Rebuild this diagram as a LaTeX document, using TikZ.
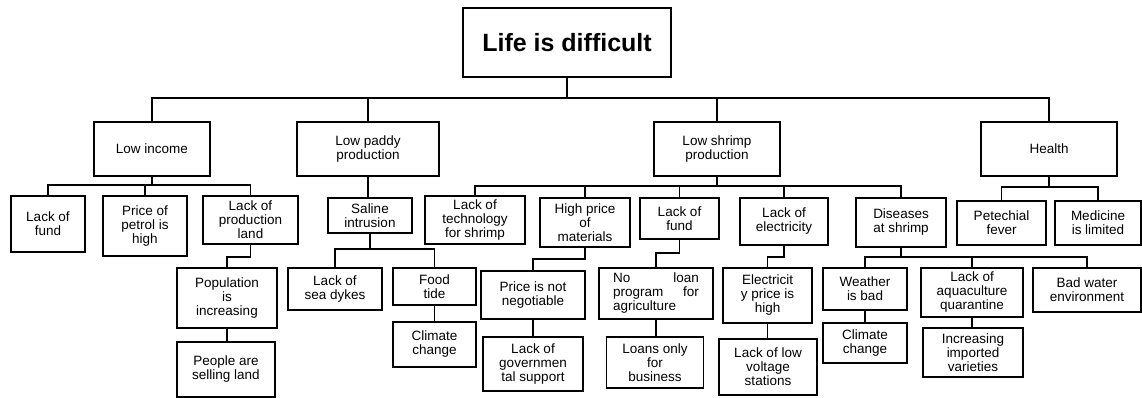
\documentclass[tikz,border=0pt]{standalone}
\usepackage{fontspec}
\setmainfont{Liberation Sans}
\tikzset{
  box/.style = {draw, line width=1.8pt, align=center, inner sep=0pt,
                font=\fontsize{13.5}{14}\selectfont},
  wh/.style 2 args = {minimum width=#1pt, minimum height=#2pt},
  link/.style = {line width=1.8pt}
}

\begin{document}
\begin{tikzpicture}[x=1pt, y=-1pt]
  \useasboundingbox (0,0) rectangle (1142,398);

  \node[box, wh={208}{69}, font=\fontsize{25}{28}\selectfont\bfseries] (life) at (567,42.5) {Life is difficult};

  \node[box, wh={116}{54}] (lowinc) at (152,149) {Low income};
  \node[box, wh={142}{54}] (paddy)  at (368,149) {Low paddy\\production};
  \node[box, wh={126}{54}] (shrimp) at (717,149) {Low shrimp\\production};
  \node[box, wh={136}{54}] (health) at (1049,149) {Health};

  \node[box, wh={74}{56}]  (fundA)    at (48,224)    {Lack of\\fund};
  \node[box, wh={84}{60}]  (petrol)   at (145,226)   {Price of\\petrol is\\high};
  \node[box, wh={95}{48}]  (prodland) at (250.5,220) {Lack of\\production\\land};
  \node[box, wh={100}{60}] (populat)  at (227,298)   {Population\\is\\increasing};
  \node[box, wh={98}{55}]  (selling)  at (226,369.5) {People are\\selling land};

  \node[box, wh={84}{35}]  (saline)   at (370,215.5) {Saline\\intrusion};
  \node[box, wh={94}{42}]  (dykes)    at (335,289)   {Lack of\\sea dykes};
  \node[box, wh={83}{37}]  (foodtide) at (434.5,286.5) {Food\\tide};
  \node[box, wh={83}{45}]  (climA)    at (434.5,344.5) {Climate\\change};

  \node[box, wh={100}{48}] (techno)   at (475,220)   {Lack of\\technology\\for shrimp};
  \node[box, wh={90}{49}]  (highpr)   at (585,222.5) {High price\\of\\materials};
  \node[box, wh={79}{41}]  (fundB)    at (679.5,218.5) {Lack of\\fund};
  \node[box, wh={88}{47}]  (electr)   at (784,221.5) {Lack of\\electricity};
  \node[box, wh={90}{49}]  (disease)  at (901,222.5) {Diseases\\at shrimp};

  \node[box, wh={104}{48}] (notneg)   at (533,295)   {Price is not\\negotiable};
  \node[box, wh={100}{54}] (govsup)   at (533,364)   {Lack of\\governmen\\tal support};
  \node[box, wh={114}{51}, text width=86pt, align=left] (noloan) at (656,293.5)
       {No\hfill loan\\program\hfill for\\agriculture};
  \node[box, wh={97}{51}]  (loansonly) at (655,362.5) {Loans only\\for\\business};
  \node[box, wh={89}{55}]  (elecpr)   at (767.5,295.5) {Electricit\\y price is\\high};
  \node[box, wh={98}{56}]  (lowvolt)  at (768,367)   {Lack of low\\voltage\\stations};
  \node[box, wh={84}{42}]  (weather)  at (865,289)   {Weather\\is bad};
  \node[box, wh={84}{40}]  (climB)    at (865,343)   {Climate\\change};
  \node[box, wh={102}{49}] (aqua)     at (972,292.5) {Lack of\\aquaculture\\quarantine};
  \node[box, wh={100}{49}] (import)   at (973,352.5) {Increasing\\imported\\varieties};
  \node[box, wh={108}{44}] (badwater) at (1087,290)  {Bad water\\environment};

  \node[box, wh={89}{44}]  (petech)   at (1001.5,223) {Petechial\\fever};
  \node[box, wh={86}{44}]  (medic)    at (1098,223)  {Medicine\\is limited};

  \coordinate (busTop) at (0,98);
  \coordinate (busInc) at (0,185);
  \coordinate (busPad) at (0,249);
  \coordinate (busShr) at (0,186);
  \coordinate (busHea) at (0,187);
  \coordinate (busDis) at (0,257);
  \coordinate (busLow) at (0,257);
  \coordinate (busMid) at (0,259);
  \coordinate (busFun) at (0,253);

  \foreach \c in {lowinc, paddy, shrimp, health}
    \draw[link] (life.south) -- (life.south |- busTop) -| (\c.north);
  \foreach \c in {fundA, petrol, prodland}
    \draw[link] (lowinc.south) -- (lowinc.south |- busInc) -| (\c.north);
  \foreach \c in {dykes, foodtide}
    \draw[link] (saline.south) -- (saline.south |- busPad) -| (\c.north);
  \foreach \c in {techno, highpr, fundB, electr, disease}
    \draw[link] (shrimp.south) -- (shrimp.south |- busShr) -| (\c.north);
  \foreach \c in {weather, aqua, badwater}
    \draw[link] (disease.south) -- (disease.south |- busDis) -| (\c.north);
  \foreach \c in {petech, medic}
    \draw[link] (health.south) -- (health.south |- busHea) -| (\c.north);

  \draw[link] (prodland.south) -- (prodland.south |- busLow) -| (populat.north);
  \draw[link] (highpr.south) -- (highpr.south |- busMid) -| (notneg.north);
  \draw[link] (fundB.south) -- (fundB.south |- busFun) -| (noloan.north);
  \draw[link] (electr.south) -- (electr.south |- busLow) -| (elecpr.north);

  \draw[link] (paddy.south) -- (paddy.south |- saline.north);
  \draw[link] (populat.south) -- (populat.south |- selling.north);
  \draw[link] (foodtide.south) -- (foodtide.south |- climA.north);
  \draw[link] (notneg.south) -- (notneg.south |- govsup.north);
  \draw[link] (noloan.south) -- (noloan.south |- loansonly.north);
  \draw[link] (elecpr.south) -- (elecpr.south |- lowvolt.north);
  \draw[link] (weather.south) -- (weather.south |- climB.north);
  \draw[link] (aqua.south) -- (aqua.south |- import.north);
\end{tikzpicture}
\end{document}
